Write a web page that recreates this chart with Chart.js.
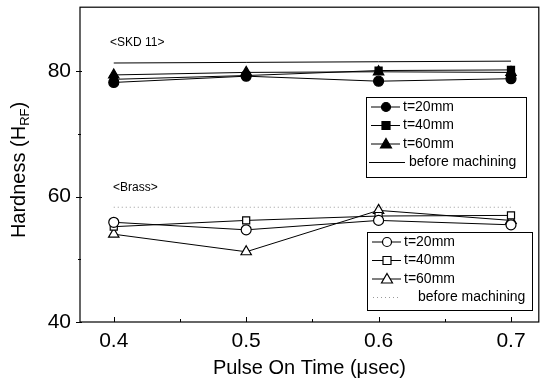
<!DOCTYPE html>
<html lang="en">
  <head>
    <meta charset="UTF-8" />
    <title>Hardness vs Pulse On Time</title>
    <script src="https://cdn.jsdelivr.net/npm/chart.js"></script>
    <style>
      body {
        margin: 0;
        background: #ffffff;
      }
      canvas {
        display: block;
      }
    </style>
  </head>
  <body>
    <canvas id="hardChart" width="546" height="385"></canvas>

    <script>
      const pulse = [0.4, 0.5, 0.6, 0.7];
      const yTicks = [40, 60, 80];
      const yMinor = [50, 70];
      const xMinor = [0.45, 0.55, 0.65];

      // SKD 11 (filled markers)
      const skd20 = [78.2, 79.2, 78.4, 78.8];
      const skd40 = [78.7, 79.3, 80.1, 80.2];
      const skd60 = [79.4, 79.8, 79.9, 79.8];
      const skdBefore = [81.3, 81.4, 81.5, 81.6];

      // Brass (open markers)
      const brass20 = [55.9, 54.7, 56.2, 55.5];
      const brass40 = [55.2, 56.2, 56.9, 57.0];
      const brass60 = [54.0, 51.2, 57.8, 56.2];
      const brassBefore = [58.3, 58.3, 58.3, 58.3];

      const pts = arr => arr.map((v, i) => ({ x: pulse[i], y: v }));
      const FONT = "'Liberation Sans', Arial, sans-serif";

      function series(label, data, style, filled) {
        return {
          label: label,
          data: pts(data),
          borderColor: '#000',
          borderWidth: 1,
          pointStyle: style,
          pointRadius: style === 'triangle' ? 6 : 5,
          pointBorderColor: '#000',
          pointBackgroundColor: filled ? '#000' : '#fff',
          pointBorderWidth: 1.2
        };
      }

      // legend rows, drawn by hand so there can be two boxes
      function drawMarker(ctx, style, x, y, filled) {
        ctx.save();
        ctx.fillStyle = filled ? '#000' : '#fff';
        ctx.strokeStyle = '#000';
        ctx.lineWidth = 1.2;
        ctx.beginPath();
        if (style === 'circle') {
          ctx.arc(x, y, 4.5, 0, Math.PI * 2);
        } else if (style === 'rect') {
          ctx.rect(x - 4, y - 4, 8, 8);
        } else {
          ctx.moveTo(x, y - 5.5);
          ctx.lineTo(x + 5.5, y + 4);
          ctx.lineTo(x - 5.5, y + 4);
          ctx.closePath();
        }
        ctx.fill();
        ctx.stroke();
        ctx.restore();
      }

      function drawLegend(ctx, box, rows, filled) {
        ctx.save();
        ctx.strokeStyle = '#000';
        ctx.lineWidth = 1;
        ctx.strokeRect(box.x + 0.5, box.y + 0.5, box.w, box.h);
        ctx.font = '14px ' + FONT;
        ctx.fillStyle = '#000';
        ctx.textBaseline = 'middle';
        rows.forEach((r, i) => {
          const y = box.y + 10 + i * 18.5;
          ctx.beginPath();
          ctx.lineWidth = 1;
          if (r.style) {
            ctx.setLineDash([]);
            ctx.moveTo(box.x + 5, y);
            ctx.lineTo(box.x + 34, y);
            ctx.stroke();
            drawMarker(ctx, r.style, box.x + 20, y, filled);
            ctx.fillText(r.text, box.x + 37, y);
          } else {
            if (filled) {
              ctx.setLineDash([]);
              ctx.strokeStyle = '#000';
              ctx.moveTo(box.x + 3, y);
              ctx.lineTo(box.x + 39, y);
            } else {
              ctx.setLineDash([1, 3]);
              ctx.strokeStyle = '#999';
              ctx.moveTo(box.x + 6, y);
              ctx.lineTo(box.x + 34, y);
            }
            ctx.stroke();
            ctx.setLineDash([]);
            ctx.strokeStyle = '#000';
            ctx.fillText(r.text, box.x + (filled ? 43 : 51), y);
          }
        });
        ctx.restore();
      }

      const frame = {
        id: 'frame',
        afterDraw(chart) {
          const ctx = chart.ctx;
          const a = chart.chartArea;
          const xs = chart.scales.x;
          const ys = chart.scales.y;
          ctx.save();
          ctx.strokeStyle = '#000';
          ctx.lineWidth = 1.2;
          ctx.strokeRect(a.left, a.top, a.right - a.left, a.bottom - a.top);

          // tick marks
          ctx.lineWidth = 1;
          ctx.beginPath();
          pulse.forEach(v => {
            const px = Math.round(xs.getPixelForValue(v)) + 0.5;
            ctx.moveTo(px, a.bottom);
            ctx.lineTo(px, a.bottom - 5);
          });
          xMinor.forEach(v => {
            const px = Math.round(xs.getPixelForValue(v)) + 0.5;
            ctx.moveTo(px, a.bottom);
            ctx.lineTo(px, a.bottom - 3);
          });
          yTicks.forEach(v => {
            const py = Math.round(ys.getPixelForValue(v)) + 0.5;
            ctx.moveTo(a.left - 4, py);
            ctx.lineTo(a.left + 2, py);
          });
          yMinor.forEach(v => {
            const py = Math.round(ys.getPixelForValue(v)) + 0.5;
            ctx.moveTo(a.left - 2, py);
            ctx.lineTo(a.left + 1, py);
          });
          ctx.stroke();

          // group labels
          ctx.font = '12px ' + FONT;
          ctx.fillStyle = '#000';
          ctx.textBaseline = 'middle';
          ctx.fillText('<SKD 11>', 110, ys.getPixelForValue(84.6));
          ctx.fillText('<Brass>', 113, ys.getPixelForValue(61.4));

          // y axis title with subscript
          ctx.translate(19, 170);
          ctx.rotate(-Math.PI / 2);
          ctx.textBaseline = 'middle';
          ctx.font = '20px ' + FONT;
          const main = 'Hardness (H';
          const wMain = ctx.measureText(main).width;
          ctx.font = '13px ' + FONT;
          const wSub = ctx.measureText('RF').width;
          ctx.font = '20px ' + FONT;
          const wEnd = ctx.measureText(')').width;
          let x0 = -(wMain + wSub + wEnd) / 2;
          ctx.fillText(main, x0, 0);
          ctx.font = '13px ' + FONT;
          ctx.fillText('RF', x0 + wMain, 6);
          ctx.font = '20px ' + FONT;
          ctx.fillText(')', x0 + wMain + wSub, 0);
          ctx.restore();

          drawLegend(ctx, { x: 366, y: 97, w: 160, h: 80 }, [
            { style: 'circle', text: 't=20mm' },
            { style: 'rect', text: 't=40mm' },
            { style: 'triangle', text: 't=60mm' },
            { text: 'before machining' }
          ], true);
          drawLegend(ctx, { x: 367, y: 232, w: 165, h: 78 }, [
            { style: 'circle', text: 't=20mm' },
            { style: 'rect', text: 't=40mm' },
            { style: 'triangle', text: 't=60mm' },
            { text: 'before machining' }
          ], false);
        }
      };

      // drop the label overhang padding so the plot box sits where it should
      function noOverhang(axis) {
        axis.paddingLeft = 0;
        axis.paddingRight = 0;
        axis.paddingTop = 0;
        axis.paddingBottom = 0;
      }

      const ctx = document.getElementById('hardChart').getContext('2d');
      new Chart(ctx, {
        type: 'line',
        data: {
          datasets: [
            {
              label: 'SKD before machining',
              data: pts(skdBefore),
              borderColor: '#000',
              borderWidth: 1,
              pointRadius: 0
            },
            series('SKD t=20mm', skd20, 'circle', true),
            series('SKD t=40mm', skd40, 'rect', true),
            series('SKD t=60mm', skd60, 'triangle', true),
            {
              label: 'Brass before machining',
              data: pts(brassBefore),
              borderColor: '#999',
              borderWidth: 1,
              borderDash: [1, 3],
              pointRadius: 0
            },
            series('Brass t=20mm', brass20, 'circle', false),
            series('Brass t=40mm', brass40, 'rect', false),
            series('Brass t=60mm', brass60, 'triangle', false)
          ]
        },
        options: {
          responsive: false,
          animation: false,
          layout: { padding: { left: 0, top: 5, right: 5, bottom: 0 } },
          plugins: {
            legend: { display: false },
            tooltip: { enabled: false }
          },
          scales: {
            x: {
              type: 'linear',
              min: 0.3745,
              max: 0.721,
              afterBuildTicks: axis => {
                axis.ticks = pulse.map(v => ({ value: v }));
              },
              afterFit: axis => {
                axis.height = 63;
                noOverhang(axis);
              },
              grid: { display: false, drawTicks: false },
              border: { display: false },
              ticks: {
                color: '#000',
                font: { family: FONT, size: 21 },
                padding: 7,
                maxRotation: 0,
                callback: v => v.toFixed(1)
              },
              title: {
                display: true,
                text: 'Pulse On Time (\u03bcsec)',
                color: '#000',
                font: { family: FONT, size: 20 },
                padding: { top: 0, bottom: 5 }
              }
            },
            y: {
              min: 40,
              max: 90.2,
              afterBuildTicks: axis => {
                axis.ticks = yTicks.map(v => ({ value: v }));
              },
              afterFit: axis => {
                axis.width = 80;
                noOverhang(axis);
              },
              grid: { display: false, drawTicks: false },
              border: { display: false },
              ticks: {
                color: '#000',
                font: { family: FONT, size: 21 },
                padding: 9
              }
            }
          }
        },
        plugins: [frame]
      });
    </script>
  </body>
</html>
